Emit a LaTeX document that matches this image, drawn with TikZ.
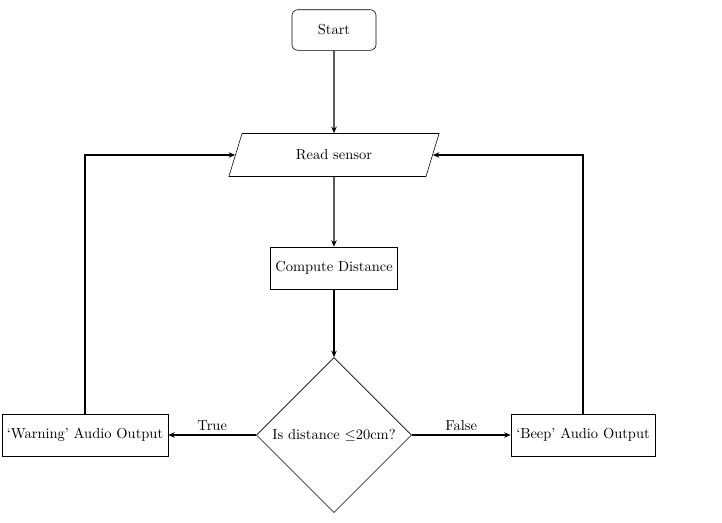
\documentclass[tikz,border=0pt]{standalone}
\usetikzlibrary{shapes.geometric,arrows.meta}
\begin{document}
\begin{tikzpicture}[x=0.69pt,y=-0.69pt,
  startbox/.style={draw,rounded corners=4pt,minimum width=58pt,minimum height=28pt,thin},
  iobox/.style={draw,trapezium,trapezium left angle=73,trapezium right angle=107,trapezium stretches=true,minimum width=146pt,minimum height=29.7pt,thin},
  procbox/.style={draw,rectangle,minimum height=29pt,inner sep=3pt,thin},
  decbox/.style={draw,diamond,minimum width=107pt,minimum height=107pt,inner sep=0pt,thin},
  arr/.style={thick,-{Stealth[length=4.5pt,width=3.8pt]}},
  lbl/.style={midway,above,inner sep=2.8pt}]
\useasboundingbox (0,0) rectangle (722,522);
\node[startbox] (start) at (334,30) {Start};
\node[iobox] (rs) at (334,155) {Read sensor};
\node[procbox,minimum width=88pt] (cd) at (334,268) {Compute Distance};
\node[decbox] (dec) at (334,435) {Is distance $\leq$20cm?};
\node[procbox,minimum width=114.5pt] (warn) at (85,435) {`Warning' Audio Output};
\node[procbox,minimum width=99.4pt] (beep) at (583,435) {`Beep' Audio Output};
\draw[arr] (start) -- (rs);
\draw[arr] (rs) -- (cd);
\draw[arr] (cd) -- (dec);
\draw[arr] (dec) -- node[lbl] {True} (warn);
\draw[arr] (dec) -- node[lbl] {False} (beep);
\draw[arr] (warn.north) |- (rs.west);
\draw[arr] (beep.north) |- (rs.east);
\end{tikzpicture}
\end{document}
